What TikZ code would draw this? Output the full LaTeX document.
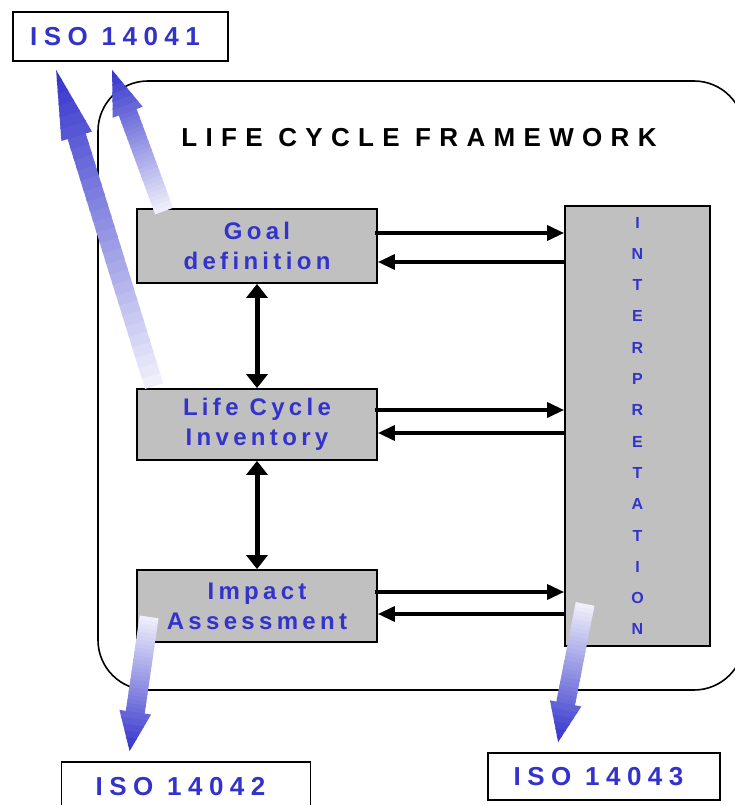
\documentclass[tikz,border=0pt]{standalone}
\usepackage{fontspec}
\setmainfont{Liberation Sans}
\newfontfamily\trackedfont[LetterSpace=18]{Liberation Sans}
\newfontfamily\isotrackedfont[LetterSpace=25]{Liberation Sans}
\newfontfamily\titlefont[LetterSpace=32]{Liberation Sans}
\usetikzlibrary{arrows.meta,calc}
\definecolor{isoblue}{RGB}{51,51,204}
\definecolor{boxgray}{RGB}{192,192,192}
\newcommand{\stagefont}{\trackedfont\bfseries\fontsize{24}{30}\selectfont}
\newcommand{\isofont}{\isotrackedfont\bfseries\fontsize{26}{30}\selectfont}
\newcommand{\headfont}{\titlefont\bfseries\fontsize{26}{30}\selectfont}
\newcommand{\letterfont}{\bfseries\fontsize{16}{31.3}\selectfont}
\newcommand{\isoname}[1]{#1\hspace*{11pt}}
% fat shaded arrow: tail, tip, fraction where the head starts
\newcommand{\isoarrow}[3]{%
    \foreach \i in {0,...,23} {
        \pgfmathsetmacro\ta{#3*\i/24}
        \pgfmathsetmacro\tb{#3*(\i+1.3)/24}
        \pgfmathsetmacro\pc{6+94*(\ta+\tb)/2}
        \draw[shaft, isoblue!\pc!white] ($(#1)!\ta!(#2)$) -- ($(#1)!\tb!(#2)$);
    }
    \foreach \j in {0,...,5} {
        \pgfmathsetmacro\ta{#3+(1-#3)*\j/6}
        \pgfmathsetmacro\tb{min(1,#3+(1-#3)*(\j+1.2)/6)}
        \pgfmathsetmacro\wa{16*(1-(\ta-#3)/(1-#3))}
        \pgfmathsetmacro\wb{16*(1-(\tb-#3)/(1-#3))}
        \pgfmathsetmacro\pc{6+94*(\ta+\tb)/2}
        \fill[isoblue!\pc!white]
            ($(#1)!\ta!(#2)!\wa pt!90:(#1)$) -- ($(#1)!\tb!(#2)!\wb pt!90:(#1)$)
            -- ($(#1)!\tb!(#2)!\wb pt!-90:(#1)$) -- ($(#1)!\ta!(#2)!\wa pt!-90:(#1)$) -- cycle;
    }
}
\tikzset{
    stage/.style={draw, line width=1.8pt, fill=boxgray, minimum width=240pt, minimum height=72pt,
        align=center, text=isoblue, font=\stagefont},
    isobox/.style={draw, line width=1.8pt, fill=white, text=isoblue, font=\isofont, minimum height=49pt},
    flow/.style={line width=3.5pt, -{Triangle[length=17pt,width=15pt]}},
    link/.style={line width=5pt, {Triangle[length=14pt,width=21pt]}-{Triangle[length=14pt,width=21pt]}},
    shaft/.style={line width=19pt}
}
\begin{document}
\begin{tikzpicture}[x=1pt, y=-1pt]
    \useasboundingbox (0,0) rectangle (734,805);

    % framework outline
    \draw[line width=1.6pt, rounded corners=50pt] (98,81) rectangle (744,690);
    \node[font=\headfont] (title) at (419,138) {LIFE CYCLE FRAMEWORK};

    % stages
    \node[stage, minimum height=74pt] (goal) at (257,246) {Goal\\definition};
    \node[stage, minimum height=71pt] (inventory) at (257,424.5) {Life Cycle\\Inventory};
    \node[stage] (impact) at (257,606) {Impact\\Assessment};
    \node[stage, minimum width=145pt, minimum height=440pt, font=\letterfont] (interp) at (637.5,426)
        {I\\N\\T\\E\\R\\P\\R\\E\\T\\A\\T\\I\\O\\N};

    % standards
    \node[isobox, minimum width=215pt] (iso41) at (120.5,36.5) {\isoname{ISO 14041}};
    \node[isobox, minimum width=249pt, minimum height=50pt] (iso42) at (186,787) {\isoname{ISO 14042}};
    \node[isobox, minimum width=232pt, minimum height=47pt] (iso43) at (604,776.5) {\isoname{ISO 14043}};

    % links between stages
    \draw[link] (goal) -- (inventory);
    \draw[link] (inventory) -- (impact);

    \coordinate (r1) at (0,233);
    \coordinate (r2) at (0,262);
    \coordinate (r3) at (0,410);
    \coordinate (r4) at (0,433);
    \coordinate (r5) at (0,592);
    \coordinate (r6) at (0,614);
    \draw[flow] ([xshift=-3pt]goal.east |- r1) -- (interp.west |- r1);
    \draw[flow] (interp.west |- r2) -- (goal.east |- r2);
    \draw[flow] ([xshift=-3pt]inventory.east |- r3) -- (interp.west |- r3);
    \draw[flow] (interp.west |- r4) -- (inventory.east |- r4);
    \draw[flow] ([xshift=-3pt]impact.east |- r5) -- (interp.west |- r5);
    \draw[flow] (interp.west |- r6) -- (impact.east |- r6);

    % shaded arrows to the standards
    \coordinate (a1) at ([xshift=28pt, yshift=-3pt]goal.north west);
    \coordinate (b1) at ([xshift=100pt, yshift=-8pt]iso41.south west);
    \coordinate (a2) at ([xshift=18pt, yshift=2pt]inventory.north west);
    \coordinate (b2) at ([xshift=44pt, yshift=-8pt]iso41.south west);
    \coordinate (a3) at ([xshift=13pt, yshift=26pt]impact.south west);
    \coordinate (b3) at ([xshift=69pt, yshift=10pt]iso42.north west);
    \coordinate (a4) at ([xshift=21pt, yshift=43pt]interp.south west);
    \coordinate (b4) at ([xshift=71pt, yshift=10pt]iso43.north west);
    \isoarrow{a1}{b1}{0.70}
    \isoarrow{a2}{b2}{0.79}
    \isoarrow{a3}{b3}{0.71}
    \isoarrow{a4}{b4}{0.72}
\end{tikzpicture}
\end{document}
